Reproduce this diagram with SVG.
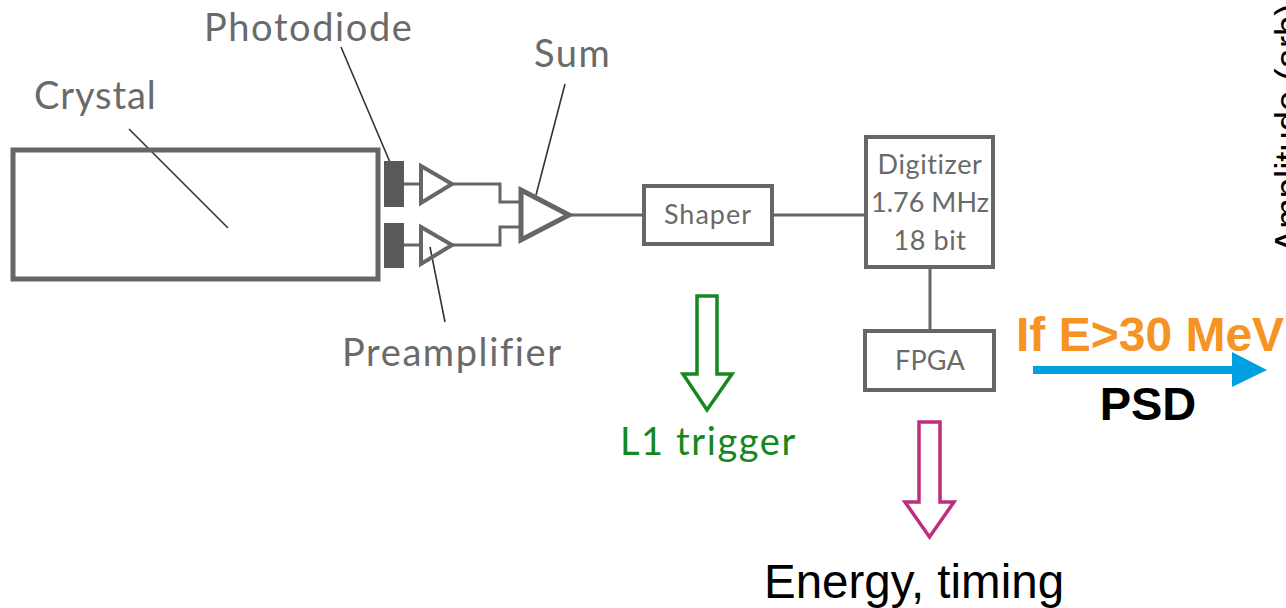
<svg xmlns="http://www.w3.org/2000/svg" width="1286" height="608" viewBox="0 0 1286 608">
<style>
.lbl{font-family:"Lato","Noto Sans",sans-serif;fill:#6a6a6a}
.big{font-size:38px;letter-spacing:1.6px}
.small{font-size:27px;letter-spacing:.6px}
.ar{font-family:"Liberation Sans",Arial,sans-serif}
.box{fill:#fff;stroke:#666666;stroke-width:4}
.amp{fill:none;stroke:#666666;stroke-linejoin:miter}
.wire{fill:none;stroke:#666666;stroke-width:3}
.lead{fill:none;stroke:#333333;stroke-width:1.6}
</style>
<rect width="1286" height="608" fill="#ffffff"/>
<g id="connectors">
<path class="wire" d="M403 184H420M403 245H420M452 184H500V202H520M452 245H500V227H520M570 215H643M772 215H865M930 267V330"/>
<path class="lead" d="M129 129L228 228M341 47L392 167M565 84L536 195M430 247L445 322"/>
</g>
<g id="crystal"><rect x="13" y="150" width="365" height="129" fill="none" stroke="#666666" stroke-width="5"/><text class="lbl big" style="letter-spacing:.9px" x="34" y="109">Crystal</text></g>
<g id="photodiode"><rect x="384" y="161" width="20" height="46" fill="#595959"/><rect x="384" y="223" width="20" height="45" fill="#595959"/><text class="lbl big" x="204" y="41">Photodiode</text></g>
<g id="preamplifier"><path class="amp" stroke-width="4" d="M421 166L452 184L421 203ZM421 227L452 245L421 264Z"/><text class="lbl big" x="342" y="366">Preamplifier</text></g>
<g id="sum"><path class="amp" stroke-width="5" d="M521 190L569 215L521 240Z"/><text class="lbl big" x="534" y="67">Sum</text></g>
<g id="shaper"><rect class="box" x="644" y="186" width="128" height="58"/><text class="lbl small" x="708" y="224" text-anchor="middle" style="letter-spacing:1px">Shaper</text></g>
<g id="digitizer"><rect class="box" x="866" y="137" width="127" height="130"/><text class="lbl small" text-anchor="middle" x="930" y="174">Digitizer</text><text class="lbl small" text-anchor="middle" style="letter-spacing:0" x="930" y="212">1.76 MHz</text><text class="lbl small" text-anchor="middle" x="930" y="250">18 bit</text></g>
<g id="fpga"><rect class="box" x="865" y="331" width="129" height="59"/><text class="lbl small" x="930" y="370" text-anchor="middle" style="letter-spacing:.2px">FPGA</text></g>
<g id="l1-trigger"><path d="M697 296H717V374H732L707 410L683 374H697Z" fill="none" stroke="#14881e" stroke-width="3.500"/><text class="lbl big" style="fill:#14881e" x="620" y="455">L1 trigger</text></g>
<g id="energy"><path d="M919 422H940V502H954L929.500 537L905 502H919Z" fill="none" stroke="#bd2f7d" stroke-width="3.500"/><text class="ar" x="764" y="598" font-size="47.500" fill="#000">Energy, timing</text></g>
<g id="psd"><rect x="1033" y="366" width="200" height="8" fill="#00a0e0"/><path d="M1232 352L1267 370L1232 387Z" fill="#00a0e0"/><text class="ar" x="1016" y="351" font-size="48" font-weight="700" fill="#f59323">If E&gt;30 MeV</text><text class="ar" x="1148" y="420" font-size="47" font-weight="700" fill="#000" text-anchor="middle">PSD</text></g>
<text class="ar" transform="translate(1301 253) rotate(-90)" font-size="36.500" fill="#000">Amplitude (arb)</text>
</svg>
